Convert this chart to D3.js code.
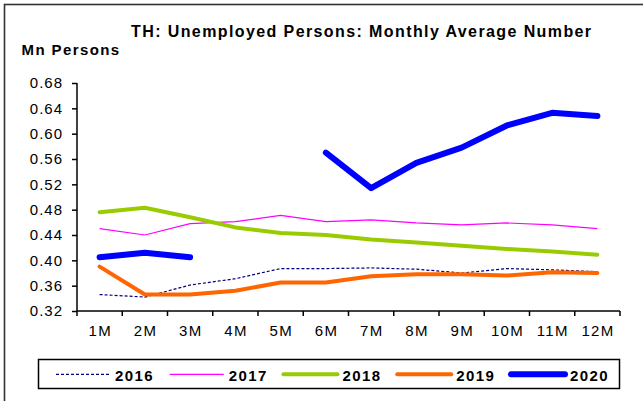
<!DOCTYPE html>
<html>
<head>
<meta charset="utf-8">
<script src="https://cdn.jsdelivr.net/npm/d3@7"></script>
<style>
  html, body { margin: 0; padding: 0; background: #fff; }
  svg { display: block; font-family: "Liberation Sans", Arial, sans-serif; }
</style>
</head>
<body>
<svg id="chart" width="643" height="401"></svg>
<script>
// Months shown along the x axis
const months = ["1M","2M","3M","4M","5M","6M","7M","8M","9M","10M","11M","12M"];

// Unemployed persons, monthly average (millions)
const y2016 = [0.346,0.342,0.361,0.371,0.387,0.387,0.388,0.386,0.380,0.387,0.385,0.382];
const y2017 = [0.450,0.440,0.458,0.461,0.471,0.461,0.464,0.459,0.456,0.459,0.456,0.450];
const y2018 = [0.476,0.483,0.468,0.452,0.443,0.440,0.433,0.428,0.423,0.418,0.414,0.409];
const y2019 = [0.390,0.346,0.346,0.352,0.365,0.365,0.375,0.378,0.378,0.376,0.381,0.380];
const y2020 = [0.405,0.412,0.405,null,null,0.570,0.514,0.554,0.578,0.613,0.633,0.628];

const yTicks = [0.32,0.36,0.40,0.44,0.48,0.52,0.56,0.60,0.64,0.68];

const series = [
  { name: "2016", values: y2016, color: "#000080", width: 1.2, dash: "3,2" },
  { name: "2017", values: y2017, color: "#FF00FF", width: 1.2, dash: null },
  { name: "2018", values: y2018, color: "#99CC00", width: 4,   dash: null },
  { name: "2019", values: y2019, color: "#FF6600", width: 4,   dash: null },
  { name: "2020", values: y2020, color: "#0000FF", width: 6,   dash: null }
];

const svg = d3.select("#chart");
const track = "1.4px";

// Chart frame
svg.append("rect")
  .attr("x", 4.5).attr("y", 4.5)
  .attr("width", 700).attr("height", 450)
  .attr("fill", "none").attr("stroke", "#333").attr("stroke-width", 1.6);

const plot = { left: 77, right: 620, top: 83, bottom: 311 };

const x = d3.scaleBand().domain(months).range([plot.left, plot.right]).padding(0);
const y = d3.scaleLinear().domain([0.32, 0.68]).range([plot.bottom, plot.top]);

// Title and unit label
svg.append("text")
  .attr("x", 131).attr("y", 36.7)
  .attr("font-size", 16).attr("font-weight", "bold")
  .style("letter-spacing", track)
  .attr("fill", "#000")
  .text("TH:  Unemployed Persons: Monthly Average Number");

svg.append("text")
  .attr("x", 21.5).attr("y", 55)
  .attr("font-size", 15).attr("font-weight", "bold")
  .style("letter-spacing", track)
  .attr("fill", "#000")
  .text("Mn Persons");

// Y axis
const yAxis = d3.axisLeft(y).tickValues(yTicks).tickFormat(d3.format(".2f"))
  .tickSize(5).tickPadding(9);
const gy = svg.append("g").attr("transform", `translate(${plot.left},0)`).call(yAxis);
gy.select(".domain").attr("stroke", "#000").attr("stroke-width", 1.5)
  .attr("d", `M0,${plot.bottom}V${plot.top}`);
gy.selectAll(".tick line").attr("stroke", "#000").attr("stroke-width", 1.5);
gy.selectAll(".tick text")
  .attr("font-size", 15).attr("fill", "#000")
  .attr("font-family", "Liberation Sans, Arial, sans-serif")
  .style("letter-spacing", "1px");

// X axis with ticks at category boundaries
const gx = svg.append("g").attr("transform", `translate(0,${plot.bottom})`);
gx.append("line")
  .attr("x1", plot.left).attr("x2", plot.right)
  .attr("stroke", "#000").attr("stroke-width", 1.5);
const bounds = months.map(m => x(m)).concat([x(months[months.length - 1]) + x.bandwidth()]);
gx.selectAll("line.tick").data(bounds).enter().append("line")
  .attr("class", "tick")
  .attr("x1", d => d).attr("x2", d => d)
  .attr("y1", 0).attr("y2", 5)
  .attr("stroke", "#000").attr("stroke-width", 1.5);
gx.selectAll("text").data(months).enter().append("text")
  .attr("x", d => x(d) + x.bandwidth() / 2 + 0.7)
  .attr("y", 25)
  .attr("text-anchor", "middle")
  .attr("font-size", 15).attr("fill", "#000")
  .style("letter-spacing", track)
  .text(d => d);

// Lines
const line = d3.line()
  .defined(d => d != null)
  .x((d, i) => x(months[i]) + x.bandwidth() / 2)
  .y(d => y(d));

svg.append("g").selectAll("path").data(series).enter().append("path")
  .attr("d", s => line(s.values))
  .attr("fill", "none")
  .attr("stroke", s => s.color)
  .attr("stroke-width", s => s.width)
  .attr("stroke-dasharray", s => s.dash)
  .attr("stroke-linejoin", "round")
  .attr("stroke-linecap", s => s.width > 2 ? "round" : "butt");

// Legend
const legend = svg.append("g");
legend.append("rect")
  .attr("x", 38.5).attr("y", 359.5)
  .attr("width", 581).attr("height", 29)
  .attr("fill", "#fff").attr("stroke", "#000").attr("stroke-width", 1.5);

const item = legend.selectAll("g.item").data(series).enter().append("g")
  .attr("class", "item")
  .attr("transform", (d, i) => `translate(${56 + i * 113.75},0)`);
item.append("line")
  .attr("x1", 0).attr("x2", 54)
  .attr("y1", 374.3).attr("y2", 374.3)
  .attr("stroke", d => d.color)
  .attr("stroke-width", d => d.width === 6 ? 6 : d.width)
  .attr("stroke-dasharray", d => d.dash)
  .attr("stroke-linecap", d => d.width > 2 ? "round" : "butt");
item.append("text")
  .attr("x", 59).attr("y", 381)
  .attr("font-size", 15).attr("font-weight", "bold")
  .style("letter-spacing", track)
  .attr("fill", "#000")
  .text(d => d.name);
</script>
</body>
</html>
